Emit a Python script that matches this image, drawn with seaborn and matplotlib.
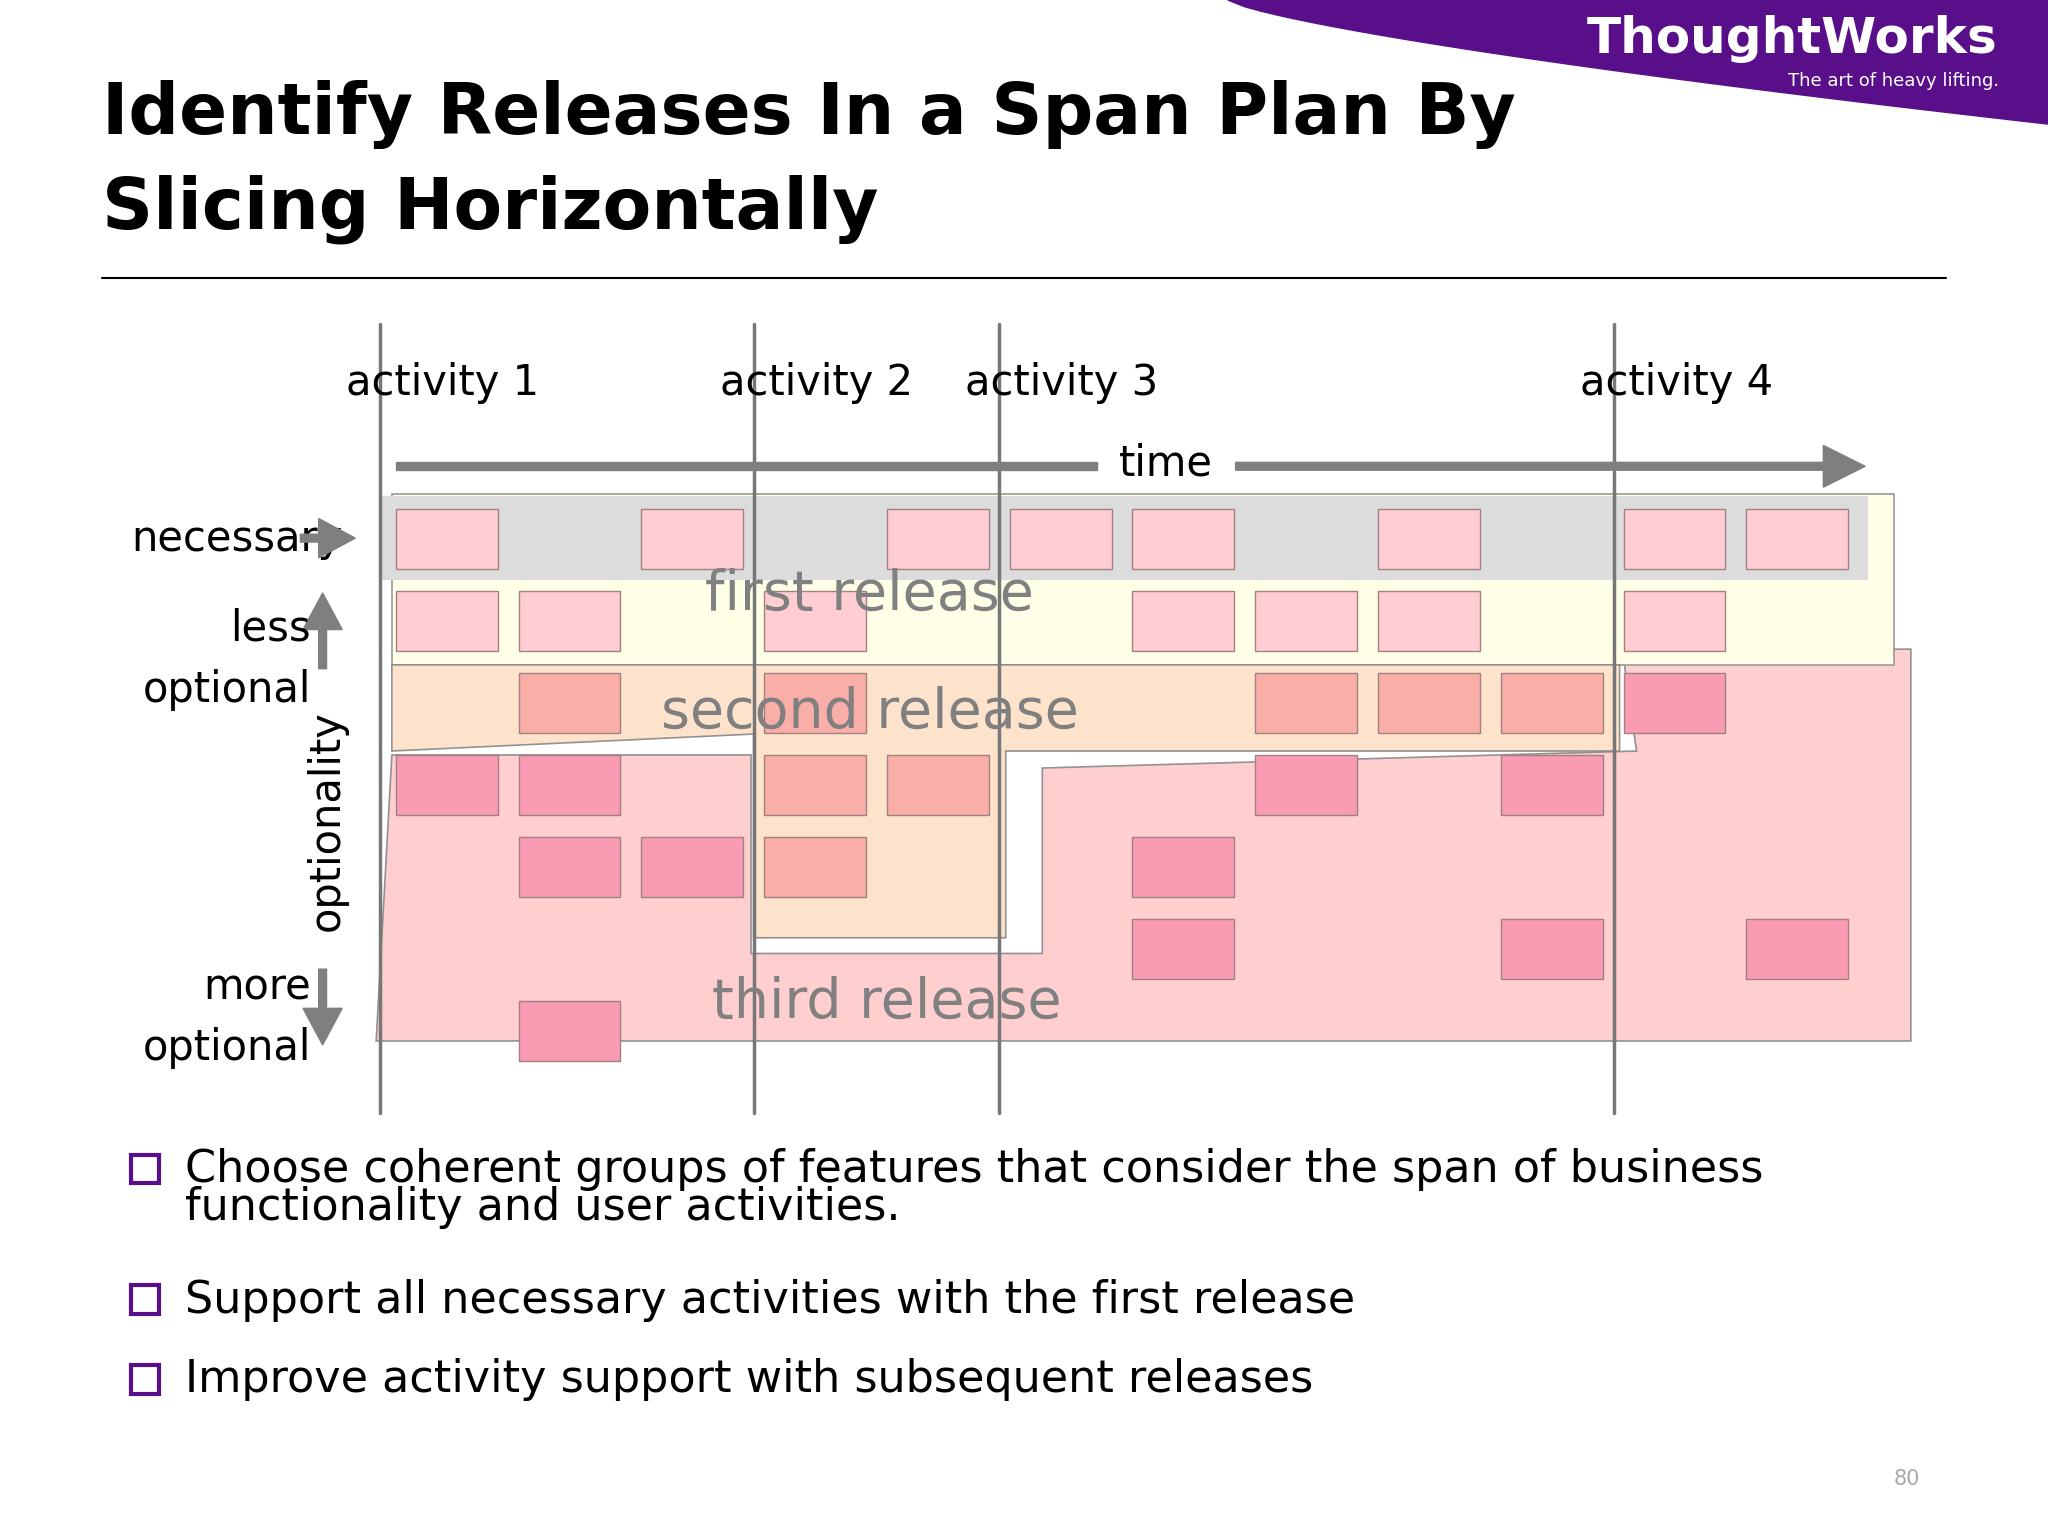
import matplotlib
matplotlib.use("Agg")
import matplotlib.pyplot as plt
import seaborn as sns
from matplotlib.patches import Rectangle, Polygon, FancyArrow
import numpy as np

# story cards: column (0..11), row (0 = necessary .. 6 = most optional), shade
card_cols = [0, 2, 4, 5, 6, 8, 10, 11,
             0, 1, 3, 6, 7, 8, 10,
             1, 3, 7, 8, 9, 10,
             0, 1, 3, 4, 7, 9,
             1, 2, 3, 6,
             6, 9, 11,
             1]
card_rows = [0] * 8 + [1] * 7 + [2] * 6 + [3] * 6 + [4] * 4 + [5] * 3 + [6]
card_shade = (["light"] * 8 + ["light"] * 7 +
              ["salmon", "salmon", "salmon", "salmon", "salmon", "pink"] +
              ["pink", "pink", "salmon", "salmon", "pink", "pink"] +
              ["pink", "pink", "salmon", "pink"] +
              ["pink", "pink", "pink"] + ["pink"])
activities = ["activity 1", "activity 2", "activity 3", "activity 4"]
activity_x = [291, 577, 765, 1236]
releases = ["first release", "second release", "third release"]
bullets = ["Choose coherent groups of features that consider the span of business\nfunctionality and user activities.",
           "Support all necessary activities with the first release",
           "Improve activity support with subsequent releases"]

shade_colors = {"light": "#FFCDD2", "salmon": "#F9AEA8", "pink": "#F99BB2"}
sns.set_style("white")
plt.rcParams["text.color"] = "black"

fig = plt.figure(figsize=(20.48, 15.36), dpi=100)
ax = fig.add_axes([0, 0, 1, 1])
ax.set_xlim(0, 1568)
ax.set_ylim(1176, 0)
ax.axis("off")

# header swoosh
t = np.linspace(0, 1, 50)
sx = 940 + 628 * t
sy = 95 * t ** 0.75
ax.add_patch(Polygon(np.column_stack([np.r_[sx, 1568], np.r_[sy, 0]]), color="#5A0F8A", zorder=1))
ax.text(1372, 30, "ThoughtWorks", color="white", fontsize=36, fontweight="bold", ha="center", va="center", zorder=2)
ax.text(1450, 62, "The art of heavy lifting.", color="white", fontsize=13, ha="center", va="center", zorder=2)

ax.text(78, 88, "Identify Releases In a Span Plan By", fontsize=51, fontweight="bold", va="center")
ax.text(78, 160, "Slicing Horizontally", fontsize=51, fontweight="bold", va="center")
ax.plot([78, 1490], [213, 213], color="black", lw=1.5)

# release regions
ax.add_patch(Polygon([(288, 797), (1463, 797), (1463, 497), (1242, 497), (1253, 575), (798, 588),
                      (798, 730), (575, 730), (575, 578), (300, 578)],
                     facecolor="#FFC9C9", edgecolor="#888888", lw=1.2, alpha=0.9, zorder=2))
ax.add_patch(Rectangle((300, 378), 1150, 131, facecolor="#FFFFE8", edgecolor="#999999", lw=1.2, zorder=2))
ax.add_patch(Rectangle((292, 380), 1138, 64, facecolor="#DCDCDC", edgecolor="none", zorder=2))
ax.add_patch(Polygon([(300, 509), (1240, 509), (1240, 575), (770, 575), (770, 718), (577, 718),
                      (577, 562), (300, 575)],
                     facecolor="#FDE0C6", edgecolor="#888888", lw=1.2, alpha=0.9, zorder=2))

for c, r, s in zip(card_cols, card_rows, card_shade):
    ax.add_patch(Rectangle((303 + 94 * c, 390 + 62.7 * r), 78, 46, facecolor=shade_colors[s],
                           edgecolor="#A08080", lw=1, zorder=3))

for name, (x, y) in zip(releases, [(666, 455), (666, 546), (679, 768)]):
    ax.text(x, y, name, fontsize=40, color="#808080", ha="center", va="center", zorder=5)

# activity lines
for name, x in zip(activities, activity_x):
    ax.plot([x, x], [248, 852], color="#777777", lw=2.5, zorder=4)
    ax.text(x + 48, 293, name, fontsize=30, ha="center", va="center", zorder=5)

# time arrow
ax.add_patch(FancyArrow(303, 357, 537, 0, width=6, head_width=0, head_length=0, color="#7F7F7F", zorder=4))
ax.add_patch(FancyArrow(946, 357, 450, 0, width=6, head_width=32, head_length=32,
                        length_includes_head=False, color="#7F7F7F", zorder=4))
ax.text(893, 355, "time", fontsize=30, ha="center", va="center", zorder=5)

# optionality axis
ax.text(262, 413, "necessary", fontsize=30, ha="right", va="center", zorder=5)
ax.add_patch(FancyArrow(230, 412, 14, 0, width=6, head_width=30, head_length=28, color="#7F7F7F", zorder=6))
ax.text(238, 481, "less", fontsize=30, ha="right", va="center")
ax.text(238, 528, "optional", fontsize=30, ha="right", va="center")
ax.add_patch(FancyArrow(247, 512, 0, -30, width=6, head_width=30, head_length=28, color="#7F7F7F"))
ax.text(250, 628, "optionality", fontsize=30, rotation=90, ha="center", va="center")
ax.text(238, 756, "more", fontsize=30, ha="right", va="center")
ax.text(238, 802, "optional", fontsize=30, ha="right", va="center")
ax.add_patch(FancyArrow(247, 742, 0, 30, width=6, head_width=30, head_length=28, color="#7F7F7F"))

# bullets
for text, y in zip(bullets, [897, 997, 1058]):
    ax.add_patch(Rectangle((100, y - 13), 22, 22, facecolor="none", edgecolor="#5A0F8A", lw=3))
    ax.text(142, y - 18, text, fontsize=32, va="top", linespacing=0.85)

ax.text(1460, 1132, "80", fontsize=15, color="#AAAAAA", ha="center", va="center")

fig.savefig("out.png", dpi=100)
